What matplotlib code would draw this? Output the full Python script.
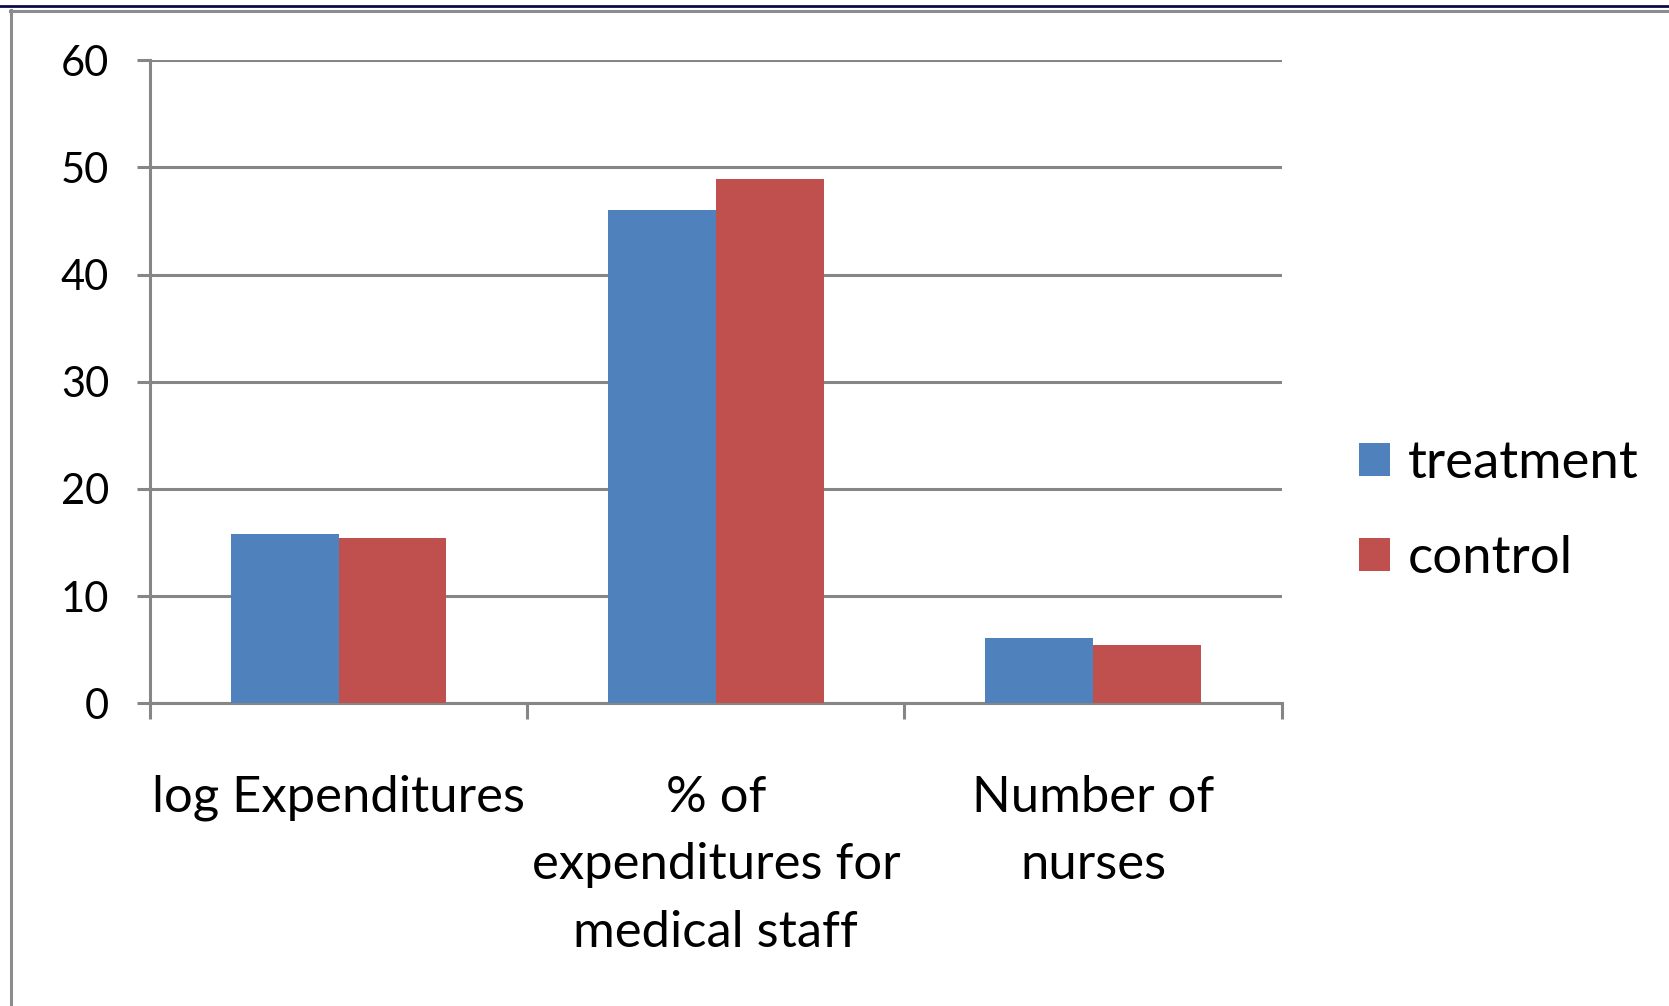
import matplotlib.pyplot as plt
from matplotlib.lines import Line2D
import numpy as np

categories = ["log Expenditures", "% of\nexpenditures for\nmedical staff", "Number of\nnurses"]
treatment = [15.8, 46.0, 6.1]
control = [15.4, 48.9, 5.4]
yticks = [0, 10, 20, 30, 40, 50, 60]

BLUE = "#4F81BD"
RED = "#C0504D"
GRID = "#868686"

plt.rcParams["font.family"] = ["Lato", "DejaVu Sans"]

fig = plt.figure(figsize=(16.69, 10.06), dpi=100)
ax = fig.add_axes([0.0899, 0.301, 0.678, 0.639])

x = np.arange(len(categories))
w = 1 / 3.5
ax.bar(x - w / 2, treatment, w, color=BLUE, label="treatment", zorder=3)
ax.bar(x + w / 2, control, w, color=RED, label="control", zorder=3)

ax.set_xlim(-0.5, len(categories) - 0.5)
ax.set_ylim(0, 60)
ax.set_yticks(yticks)
ax.yaxis.grid(True, color=GRID, linewidth=2.2, zorder=0)
ax.set_axisbelow(True)

for s in ["top", "right"]:
    ax.spines[s].set_visible(False)
for s in ["left", "bottom"]:
    ax.spines[s].set_color(GRID)
    ax.spines[s].set_linewidth(2.2)

ax.tick_params(axis="y", length=9.5, width=2.2, color=GRID, labelsize=30, pad=20)
ax.set_xticks(x)
ax.set_xticklabels(categories, fontsize=36.5, linespacing=1.58)
ax.set_xticks(np.arange(-0.5, len(categories)), minor=True)
ax.tick_params(axis="x", which="major", length=0, pad=51.5)
ax.tick_params(axis="x", which="minor", length=11.5, width=2.2, color=GRID)

fig.legend(loc="center left", bbox_to_anchor=(0.814, 0.492), frameon=False,
           fontsize=38, handlelength=0.59, handleheight=0.59, handletextpad=0.35,
           labelspacing=0.9, borderpad=0, borderaxespad=0)

# slide frame lines
fig.add_artist(Line2D([0, 1], [1 - 6 / 1006] * 2, transform=fig.transFigure,
                      color="#0d0d45", linewidth=2.0))
fig.add_artist(Line2D([10 / 1669, 1], [1 - 11 / 1006] * 2, transform=fig.transFigure,
                      color="#8c8c8c", linewidth=2.2))
fig.add_artist(Line2D([11 / 1669] * 2, [0, 1 - 10 / 1006], transform=fig.transFigure,
                      color="#8c8c8c", linewidth=2.2))

fig.savefig("out.png", dpi=100)
